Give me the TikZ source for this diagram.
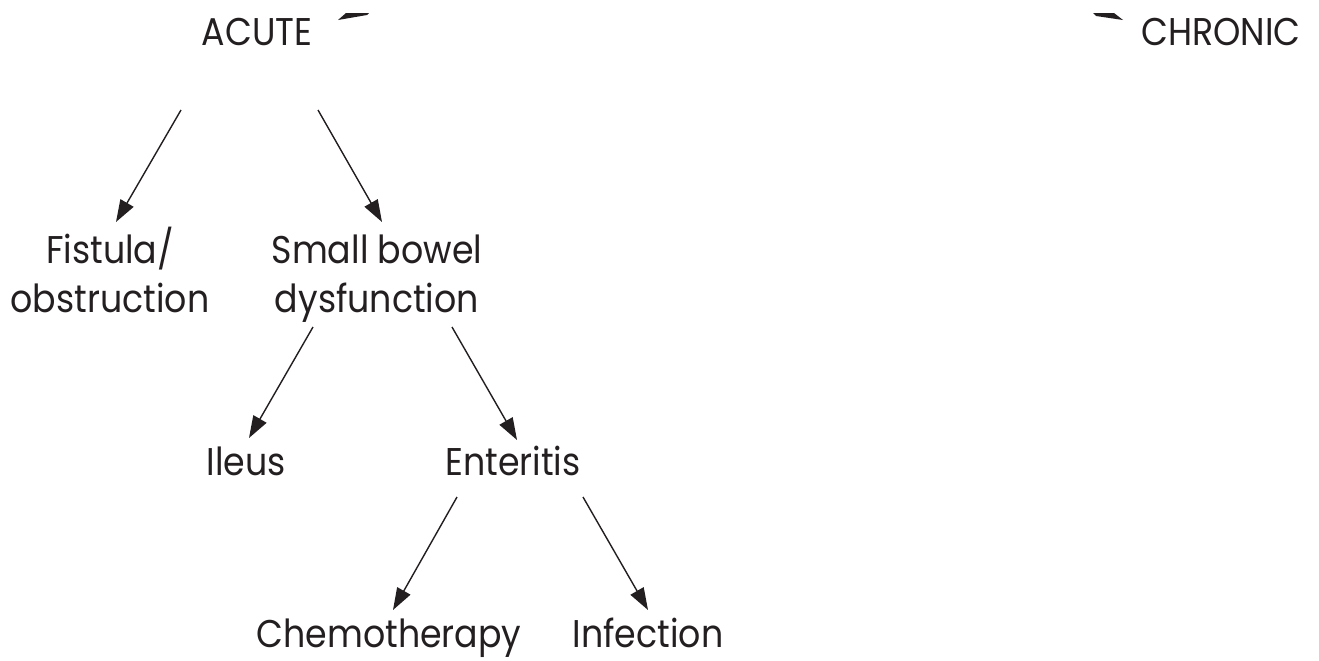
\documentclass[tikz,border=0pt]{standalone}
\usepackage{fontspec}
\setmainfont{Poppins}[FakeStretch=0.9]
\usetikzlibrary{arrows.meta}

\definecolor{ink}{HTML}{231F20}

\begin{document}
\begin{tikzpicture}[x=0.02cm, y=-0.02cm,
		lbl/.style={font=\fontsize{22}{27.8}\selectfont, text=ink, inner sep=0pt, align=center, anchor=base},
		arr/.style={draw=ink, line width=0.8pt, -{Triangle[length=0.44cm, width=0.3cm]}}]
			\useasboundingbox (0,0) rectangle (1319,660);
			
			\node[lbl] (acute) at (257,45) {ACUTE};
			\node[lbl] (chronic) at (1221,45) {CHRONIC};
			\node[lbl] (fistula) at (110,312) {Fistula/\\obstruction};
			\node[lbl] (smallbowel) at (377,312) {Small bowel\\dysfunction};
			\node[lbl] (ileus) at (246,475) {Ileus};
			\node[lbl] (enteritis) at (513,475) {Enteritis};
			\node[lbl] (chemo) at (389,647) {Chemotherapy};
			\node[lbl] (infection) at (648,647) {Infection};
			
			% cut-off arrow tips at the top
			\fill[ink] (338,20) -- (346,13) -- (369,13) -- (367,15) -- cycle;
			\fill[ink] (1093,13) -- (1114,13) -- (1123,20) -- (1096,16) -- cycle;
			
			\draw[arr] ([shift={(-76,65)}]acute.base) -- ([shift={(6,-90)}]fistula.base);
			\draw[arr] ([shift={(61,65)}]acute.base) -- ([shift={(5,-90)}]smallbowel.base);
			\draw[arr] ([shift={(-64,15)}]smallbowel.base) -- ([shift={(3,-37)}]ileus.base);
			\draw[arr] ([shift={(75,15)}]smallbowel.base) -- ([shift={(4,-35)}]enteritis.base);
			\draw[arr] ([shift={(-56,22)}]enteritis.base) -- ([shift={(4,-37)}]chemo.base);
			\draw[arr] ([shift={(70,22)}]enteritis.base) -- ([shift={(0,-37)}]infection.base);
		\end{tikzpicture}
\end{document}
